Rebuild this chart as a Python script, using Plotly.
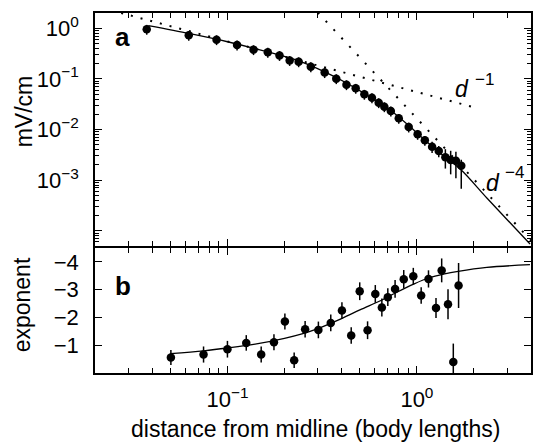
import numpy as np
import plotly.graph_objects as go

# ---------------- data ----------------
# panel a: field amplitude (mV/cm) vs distance from midline (body lengths)
a_x = [0.0375, 0.0625, 0.0876, 0.1124, 0.1373, 0.1633, 0.1883, 0.2130, 0.2376,
       0.2754, 0.3259, 0.3753, 0.4248, 0.4753, 0.528, 0.579, 0.6285, 0.6732,
       0.7284, 0.802, 0.9048, 1.0085, 1.101, 1.2025, 1.304, 1.413, 1.507,
       1.606, 1.714]
a_y = [0.955, 0.727, 0.595, 0.468, 0.378, 0.336, 0.290, 0.231, 0.218,
       0.174, 0.133, 0.101, 0.0768, 0.0652, 0.0497, 0.0425, 0.0339, 0.0282,
       0.0232, 0.01665, 0.0112, 0.00803, 0.00612, 0.00457, 0.00376, 0.00282,
       0.00250, 0.00242, 0.00193]
# relative error (upper / lower) as a fraction of the value
a_err_up = [0.22] * 23 + [0.25, 0.25, 0.45, 0.52, 0.50, 0.31]
a_err_dn = [0.22] * 23 + [0.25, 0.25, 0.40, 0.48, 0.55, 0.65]

# panel a: fitted curve
fit_a_x = [0.03825, 0.06248, 0.1, 0.1633, 0.2382, 0.3259, 0.4248, 0.528,
           0.6249, 0.7284, 0.9048, 1.1013, 1.304, 1.714, 2.353, 3.954]
fit_a_y = [1.126, 0.789, 0.541, 0.340, 0.2258, 0.1369, 0.0830, 0.0515,
           0.03496, 0.02374, 0.0120, 0.0062, 0.00359, 0.001584, 0.000433,
           5.46e-5]

# guide lines d^-1 and d^-4 (end points)
g1_x = [0.0275, 2.0]
g1_y = [2.0, 0.0275]
g4_x = [0.30, 4.2]
g4_y = [2.04, 5.3e-5]

# panel b: local exponent
b_x = [0.0503, 0.0748, 0.100, 0.1257, 0.1507, 0.176, 0.201, 0.225, 0.257,
       0.302, 0.351, 0.402, 0.450, 0.499, 0.549, 0.603, 0.653, 0.702, 0.767,
       0.852, 0.957, 1.053, 1.151, 1.261, 1.351, 1.459, 1.556, 1.659]
b_y = [-0.56, -0.665, -0.856, -1.083, -0.665, -1.108, -1.853, -0.46, -1.576,
       -1.551, -1.803, -2.250, -1.349, -2.944, -1.540, -2.847, -2.358, -2.729,
       -3.027, -3.377, -3.485, -2.790, -3.387, -2.343, -3.694, -2.476, -0.399,
       -3.150]
b_err = [0.27, 0.29, 0.30, 0.28, 0.29, 0.29, 0.29, 0.28, 0.30, 0.30, 0.30,
         0.30, 0.30, 0.32, 0.32, 0.32, 0.32, 0.32, 0.32, 0.33, 0.30, 0.30,
         0.31, 0.36, 0.43, 0.54, 0.66, 0.81]

# panel b: fitted exponent curve
fit_b_x = [0.05, 0.075, 0.1, 0.14, 0.2, 0.25, 0.3, 0.4, 0.5, 0.65, 0.77,
           0.96, 1.15, 1.4, 1.65, 2.34, 3.95]
fit_b_y = [-0.70, -0.80, -0.90, -1.04, -1.25, -1.42, -1.60, -1.96, -2.27,
           -2.62, -2.88, -3.20, -3.42, -3.57, -3.66, -3.80, -3.90]

x_major = [0.1, 1]
x_major_text = ["10<sup>\u22121</sup>", "10<sup>0</sup>"]
ya_major = [1, 0.1, 0.01, 0.001, 0.0001]
ya_major_text = ["10<sup>0</sup>", "10<sup>\u22121</sup>", "10<sup>\u22122</sup>",
                 "10<sup>\u22123</sup>", ""]
yb_major = [-4, -3, -2, -1]
yb_major_text = ["\u22124", "\u22123", "\u22122", "\u22121"]

# ---------------- figure ----------------
FONT = "Liberation Sans, Arial, Helvetica, sans-serif"
W, H = 534, 443
L, R, T, B = 95, 1, 13, 70

ay = np.array(a_y)

fig = go.Figure()

fig.add_trace(go.Scatter(x=g1_x, y=g1_y, mode="lines", xaxis="x", yaxis="y",
                         line=dict(color="black", width=2, dash="2px,8px"),
                         hoverinfo="skip", showlegend=False))
fig.add_trace(go.Scatter(x=g4_x, y=g4_y, mode="lines", xaxis="x", yaxis="y",
                         line=dict(color="black", width=2, dash="2px,9.5px"),
                         hoverinfo="skip", showlegend=False))
fig.add_trace(go.Scatter(x=fit_a_x, y=fit_a_y, mode="lines", xaxis="x", yaxis="y",
                         line=dict(color="black", width=1.3, shape="spline",
                                   smoothing=0.8),
                         hoverinfo="skip", showlegend=False))
fig.add_trace(go.Scatter(
    x=a_x, y=a_y, mode="markers", xaxis="x", yaxis="y",
    marker=dict(color="black", size=8.5),
    error_y=dict(type="data", symmetric=False,
                 array=(ay * np.array(a_err_up)).tolist(),
                 arrayminus=(ay * np.array(a_err_dn)).tolist(),
                 color="black", thickness=1.5, width=0),
    showlegend=False))

fig.add_trace(go.Scatter(x=fit_b_x, y=fit_b_y, mode="lines", xaxis="x2", yaxis="y2",
                         line=dict(color="black", width=1.3, shape="spline",
                                   smoothing=1.0),
                         hoverinfo="skip", showlegend=False))
fig.add_trace(go.Scatter(
    x=b_x, y=b_y, mode="markers", xaxis="x2", yaxis="y2",
    marker=dict(color="black", size=8.5),
    error_y=dict(type="data", array=b_err, color="black", thickness=1.5, width=0),
    showlegend=False))

x_minor = [m * 10.0 ** k for k in (-2, -1, 0) for m in range(2, 10)]
y_minor = [m * 10.0 ** k for k in (-5, -4, -3, -2, -1, 0) for m in range(2, 10)]

axis_common = dict(showline=True, linecolor="black", linewidth=1.5, mirror="allticks",
                   ticks="inside", ticklen=7, tickwidth=1, tickcolor="black",
                   showgrid=False, zeroline=False,
                   tickfont=dict(family=FONT, size=22, color="black"))

x_range = [np.log10(0.02), np.log10(4)]
dom_a = [(373 - 246) / (H - T - B), 1]
dom_b = [0, (373 - 248) / (H - T - B)]

fig.update_layout(
    width=W, height=H,
    margin=dict(l=L, r=R, t=T, b=B),
    paper_bgcolor="white", plot_bgcolor="white",
    font=dict(family=FONT, size=22, color="black"),
    xaxis=dict(type="log", range=x_range, anchor="y", domain=[0, 1],
               tickmode="array", tickvals=x_major, showticklabels=False,
               minor=dict(tickmode="array", tickvals=x_minor, ticks="inside",
                          ticklen=5, tickcolor="black", showgrid=False),
               **axis_common),
    yaxis=dict(type="log", range=[np.log10(5e-5), np.log10(2)], anchor="x",
               domain=dom_a, tickmode="array", tickvals=ya_major,
               ticktext=ya_major_text, ticklabelstandoff=10,
               minor=dict(tickmode="array", tickvals=y_minor, ticks="inside",
                          ticklen=4, tickcolor="black", showgrid=False),
               **axis_common),
    xaxis2=dict(type="log", range=x_range, anchor="y2", domain=[0, 1],
                tickmode="array", tickvals=x_major, ticktext=x_major_text,
                ticklabelstandoff=6,
                minor=dict(tickmode="array", tickvals=x_minor, ticks="inside",
                           ticklen=5, tickcolor="black", showgrid=False),
                **axis_common),
    yaxis2=dict(range=[0, -4.5], anchor="x2", domain=dom_b,
                tickmode="array", tickvals=yb_major, ticktext=yb_major_text,
                ticklabelstandoff=10, **axis_common),
)


def px2paper(px, py):
    return (px - L) / (W - L - R), (H - B - py) / (H - T - B)


def add_text(text, px, py, size, angle=0, bold=False, italic=False, xanchor="center"):
    xp, yp = px2paper(px, py)
    if bold:
        text = "<b>" + text + "</b>"
    if italic:
        text = "<i>" + text + "</i>"
    fig.add_annotation(text=text, x=xp, y=yp, xref="paper", yref="paper",
                       xanchor=xanchor, yanchor="middle", showarrow=False,
                       textangle=angle,
                       font=dict(family=FONT, size=size, color="black"))


add_text("mV/cm", 23.5, 111.5, 23, angle=-90)
add_text("exponent", 22, 305, 23, angle=-90)
add_text("distance from midline (body lengths)", 316.3, 428.7, 23)
add_text("a", 122.5, 37, 26, bold=True)
add_text("b", 123, 286, 26, bold=True)
add_text("d", 463.8, 89.2, 23, italic=True)
add_text("\u22121", 486.7, 79, 17)
add_text("d", 494.5, 182.5, 23, italic=True)
add_text("\u22124", 516.7, 172, 17)

fig.write_html("out.html",
               config={"displayModeBar": False},
               post_script="document.body.style.margin='0';"
                           "document.body.style.overflow='hidden';")
